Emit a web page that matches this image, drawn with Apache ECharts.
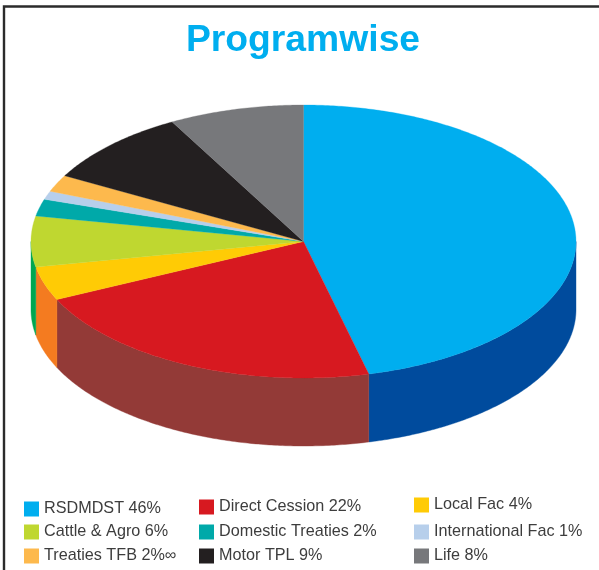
<!DOCTYPE html>
<html><head><meta charset="utf-8">
<style>html,body{margin:0;padding:0;background:#fff}#c{width:599px;height:570px}</style>
<script src="https://cdn.jsdelivr.net/npm/echarts@6/dist/echarts.min.js"></script>
</head><body><div id="c"></div>
<script>
const categories = ['RSDMDST','Direct Cession','Local Fac','Cattle & Agro','Domestic Treaties','International Fac','Treaties TFB','Motor TPL','Life'];
const values = [46.15,21.85,4,6,2,1,2,9,8];
const percentLabels = ['46%','22%','4%','6%','2%','1%','2%∞','9%','8%'];
const topColors = ['#00aeef','#d71920','#ffcb05','#bfd730','#00a9a9','#b7cfeb','#fdb94d','#231f20','#77787b'];
const sideColors = ['#004b9d','#933a37','#f47b20','#00a651','#00a9a9','#b7cfeb','#fdb94d','#231f20','#77787b'];
const legendPos = [[24,501],[199,499],[414,497],[24,524],[199,524],[414,524],[24,548],[199,548],[414,548]];

const CX=303.5, CY=241.5, RX=272.5, RY=136.5, DEPTH=68;
const total = values.reduce((a,b)=>a+b,0);
const pt=(t,dy)=>[CX+RX*Math.sin(t), CY-RY*Math.cos(t)+(dy||0)];
function arc(a,b,dy){const n=Math.max(2,Math.ceil((b-a)/0.01));const r=[];for(let i=0;i<=n;i++)r.push(pt(a+(b-a)*i/n,dy));return r;}
function render(idx){
  return function(params,api){
    const a=api.value(0)/total*2*Math.PI, b=api.value(1)/total*2*Math.PI;
    const kids=[];
    const s=Math.max(a,Math.PI/2), e=Math.min(b,3*Math.PI/2);
    if(e>s){
      const up=arc(s,e,0), dn=arc(s,e,DEPTH).reverse();
      kids.push({type:'polygon',shape:{points:up.concat(dn)},style:{fill:sideColors[idx],stroke:sideColors[idx],lineWidth:0.4}});
    }
    kids.push({type:'polygon',shape:{points:[[CX,CY]].concat(arc(a,b,0))},style:{fill:topColors[idx],stroke:topColors[idx],lineWidth:0.3}});
    return {type:'group',children:kids};
  };
}
let acc=0;
const series=categories.map((name,i)=>{
  const st=acc; acc+=values[i];
  return {type:'custom',name,coordinateSystem:'none',silent:true,animation:false,
    itemStyle:{color:topColors[i]},z:2,
    renderItem:render(i),data:[[st,acc]]};
});
const legend=categories.map((name,i)=>({
  data:[name],left:legendPos[i][0],top:legendPos[i][1],orient:'horizontal',padding:0,
  icon:'rect',itemWidth:15,itemHeight:15,itemGap:0,selectedMode:false,
  formatter:n=>n+' '+percentLabels[i],
  textStyle:{fontFamily:'Liberation Sans',fontSize:16.2,color:'#3d3d3d',padding:0}
}));
const chart=echarts.init(document.getElementById('c'),null,{renderer:'canvas'});
chart.setOption({
  backgroundColor:'#fff',animation:false,
  title:{text:'Programwise',left:298,top:17,textAlign:'center',
    textStyle:{fontFamily:'Liberation Sans',fontWeight:'bold',fontSize:37.3,color:'#00aeef'}},
  legend,series,
  graphic:[{type:'polyline',silent:true,shape:{points:[[4,570],[4,6.5],[599,6.5]]},
    style:{stroke:'#2b2b2b',fill:null,lineWidth:2.4}}]
});
</script></body></html>
